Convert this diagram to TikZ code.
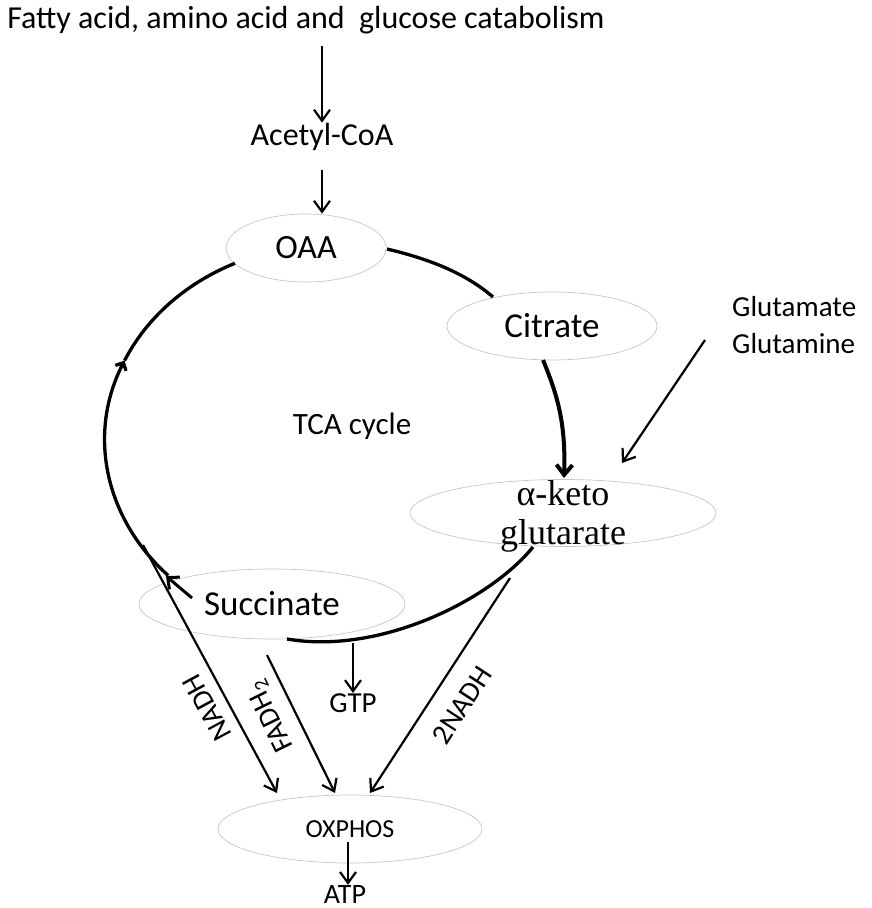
\documentclass[tikz,border=0pt]{standalone}
\usepackage{fontspec}
\setmainfont{Carlito}
\newfontfamily\timesf{Liberation Serif}
\usetikzlibrary{arrows.meta,shapes.geometric}
\newcommand{\fsz}[1]{\fontsize{#1}{#1}\selectfont}
\begin{document}
\begin{tikzpicture}[x=1pt,y=-1pt,
  oval/.style={ellipse, draw=black!22, line width=0.7pt, fill=white, inner sep=0pt},
  lbl/.style={inner sep=0pt, anchor=base},
  cyc/.style={line width=3.3pt},
  arr/.style={line width=2.2pt, -{Straight Barb[length=11pt,width=16pt]}},
]
\useasboundingbox (0,0) rectangle (872,908);

% ellipses
\node[oval, minimum width=160pt, minimum height=68pt, font=\fsz{34}] (oaa) at (306,248) {OAA};
\node[oval, minimum width=210pt, minimum height=68pt, font=\fsz{35}] (cit) at (552,326) {Citrate};
\node[oval, minimum width=306pt, minimum height=67pt] (akg) at (563,513) {};
\node[oval, minimum width=266pt, minimum height=70pt, font=\fsz{35}] (suc) at (272,604) {Succinate};
\node[oval, minimum width=264pt, minimum height=68pt, font=\fsz{26}] (ox) at (350,829) {OXPHOS};

% text labels
\node[lbl, font=\fsz{32}] (title) at (306,28.5) {Fatty acid, amino acid and\ \ glucose catabolism};
\node[lbl, font=\fsz{32}] (acetyl) at (322,145) {Acetyl-CoA};
\node[lbl, font=\fsz{31}] (tca) at (352,434) {TCA cycle};
\node[lbl, anchor=base west, font=\fsz{29}] (glu1) at (732,316) {Glutamate};
\node[lbl, anchor=base west, font=\fsz{29}] (glu2) at (732,353) {Glutamine};
\node[inner sep=0pt, align=center, font=\timesf\fontsize{36}{39}\selectfont] (akgt) at (563,516) {α-keto\\glutarate};
\node[lbl, font=\fsz{29}] (gtp) at (353,712) {GTP};
\node[lbl, font=\fsz{28}] (atp) at (345,903) {ATP};
\node[inner sep=0pt, font=\fsz{29}, rotate=118.4] (nadh) at (207,708) {NADH};
\node[inner sep=0pt, font=\fsz{29}, rotate=116.2] (fadh) at (271,716) {FADH\textsubscript{2}};
\node[inner sep=0pt, font=\fsz{29}, rotate=56.9] (nadh2) at (462,705) {2NADH};

% coordinates
\coordinate (L0) at (168.2,575.5);
\coordinate (Lm) at (124.5,360.7);
\coordinate (L1) at (234.9,263.3);
\coordinate (R0) at (387,249);
\coordinate (R1) at (493,297);
\coordinate (C0) at (543,360);
\coordinate (C1) at (564,478);
\coordinate (B0) at (533,547);
\coordinate (B1) at (287,639);
\coordinate (S0) at (192,598);
\coordinate (S1) at (166,576);
\coordinate (gtps) at (353,643);
\coordinate (n1s) at (143,545);
\coordinate (n1e) at (277,793);
\coordinate (fs) at (267,655);
\coordinate (fe) at (335,793);
\coordinate (n2s) at (510,578);
\coordinate (n2e) at (370,793);
\coordinate (gls) at (705,340);
\coordinate (gle) at (622,463);
\coordinate (oxb) at (348,842);

% cycle
\draw[cyc, -{Straight Barb[length=6pt,width=12pt]}] (L0) .. controls (104.5,518.3) and (87.2,433.3) .. (Lm);
\draw[cyc] (Lm) .. controls (146.6,317.8) and (185.7,283.2) .. (L1);
\draw[cyc] (R0) .. controls (425,258) and (463.5,271.5) .. (R1);
\draw[line width=4pt, -{Straight Barb[length=10pt,width=16pt]}] (C0) .. controls (556,392) and (566,420) .. (C1);
\draw[cyc] (B0) .. controls (490,600) and (380,655) .. (B1);
\draw[line width=3pt, -{Straight Barb[length=9pt,width=16pt]}] (S0) -- (S1);

% arrows
\draw[arr] ([yshift=-17pt]title.base -| acetyl.north) -- (acetyl.north);
\draw[arr] ([yshift=-25pt]acetyl.base) -- (acetyl.base |- oaa.north);
\draw[arr] (gtps) -- (gtp.north);
\draw[arr] (n1s) -- (n1e);
\draw[arr] (fs) -- (fe);
\draw[arr] (n2s) -- (n2e);
\draw[arr] (gls) -- (gle);
\draw[arr] (oxb) -- (oxb |- atp.north);
\end{tikzpicture}
\end{document}
